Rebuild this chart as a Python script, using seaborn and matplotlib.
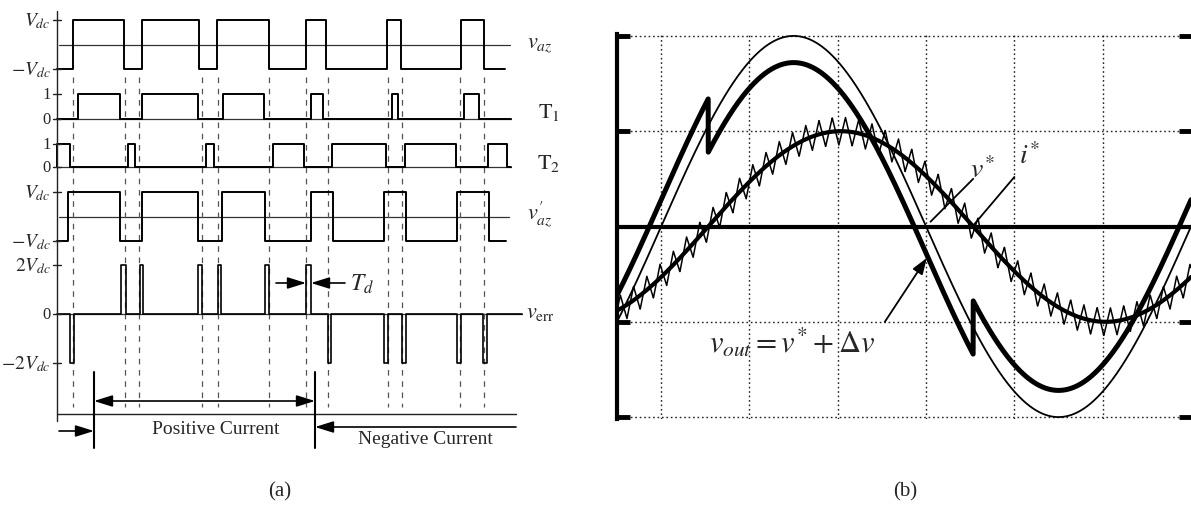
import numpy as np
import matplotlib
matplotlib.use("Agg")
import matplotlib.pyplot as plt
import seaborn as sns

# ---------------- panel (a): switching waveforms (time units along common axis) ----------------
vaz_edges = [16, 67, 85, 142, 160, 212, 249, 269, 330, 344, 404, 427]      # toggles, starts at -Vdc
vaz_end = 448
t1_pulses = [(21, 63), (85, 141), (166, 207), (254, 266), (335, 341), (407, 422)]
t2_pulses = [(0, 13), (71, 78), (149, 157), (216, 247), (275, 329), (348, 399), (431, 450)]
gate_end = 454
vazp_edges = [11, 63, 85, 141, 165, 208, 254, 276, 327, 349, 400, 432]     # toggles, starts at -Vdc
vazp_end = 449
verr_pos = [(64, 69), (83, 86), (141, 145), (161, 164), (208, 212), (249, 254)]
verr_neg = [(13, 17), (271, 274), (327, 331), (345, 349), (400, 404), (426, 430)]
verr_end = 465
dash_times = [16, 68, 82, 145, 161, 212, 249, 271, 331, 345, 403, 427]
current_bounds = [37, 258]          # start / end of positive current
td_pulse = (249, 254)

# ---------------- panel (b): waveforms (degrees, amplitudes in grid divisions) ----------------
v_amp = 2.0          # v* amplitude
v_zero = 30.0        # v* upward zero crossing (deg)
i_amp = 1.0          # i* amplitude
i_lag = 32.0         # current lag behind v* (deg)
dv_amp = 0.28        # dead-time voltage error |Δv|
ripple_amp = 0.145   # current ripple half amplitude
ripple_period = 9.0  # ripple period (deg)
x_max = 390.0
grid_x = [30, 90, 150, 210, 270, 330]
grid_y = [-2, -1, 1, 2]

# ---------------- style ----------------
sns.set_theme(style="white")
plt.rcParams['font.family'] = ['Liberation Serif', 'DejaVu Serif']
plt.rcParams['mathtext.fontset'] = 'stix'

W, H = 1191, 506
fig = plt.figure(figsize=(W / 100, H / 100), dpi=100)

# ================= panel (a) =================
ax = fig.add_axes([0, 0, 590 / W, 1])
ax.set_xlim(-57, 533)
ax.set_ylim(H, 0)
ax.axis('off')

rows = {'vaz': (45.5, 24.5), 't1': (120, 25), 't2': (168, 23),
        'vazp': (217.5, 24.5), 'verr': (315, 24.5)}


def ypix(row, lev):
    y0, s = rows[row]
    return y0 - s * np.asarray(lev, dtype=float)


def toggle_wave(edges, start, end):
    xs, ys, lev = [0], [start], start
    for e in edges:
        xs += [e, e]
        ys += [lev, -lev]
        lev = -lev
    xs.append(end)
    ys.append(lev)
    return np.array(xs, float), np.array(ys, float)


def pulse_wave(pulses, end):
    xs, ys = [0], [0.0]
    for a, b, amp in pulses:
        xs += [a, a, b, b]
        ys += [0, amp, amp, 0]
    xs.append(end)
    ys.append(0)
    return np.array(xs, float), np.array(ys, float)


kw = dict(ax=ax, estimator=None, sort=False, color='black', legend=False)
thin = dict(color='#333333', lw=0.9)

# reference lines
ax.plot([2, vaz_end + 5], [ypix('vaz', 0)] * 2, **thin)
ax.plot([0, gate_end], [ypix('t1', 0)] * 2, **thin)
ax.plot([0, gate_end], [ypix('t2', 0)] * 2, **thin)
ax.plot([2, vazp_end + 3], [ypix('vazp', 0)] * 2, **thin)
ax.plot([0, verr_end], [ypix('verr', 0)] * 2, **thin)

# dashed time marks
for t in dash_times:
    ax.plot([t, t], [78, 408], color='#555555', lw=0.9, ls=(0, (4.5, 4.5)))

# waveforms
x, y = toggle_wave(vaz_edges, -1, vaz_end)
sns.lineplot(x=x, y=ypix('vaz', y), lw=1.4, **kw)
x, y = pulse_wave([(a, b, 1) for a, b in t1_pulses], gate_end)
sns.lineplot(x=x, y=ypix('t1', y), lw=1.4, **kw)
x, y = pulse_wave([(a, b, 1) for a, b in t2_pulses], gate_end)
sns.lineplot(x=x, y=ypix('t2', y), lw=1.4, **kw)
x, y = toggle_wave(vazp_edges, -1, vazp_end)
sns.lineplot(x=x, y=ypix('vazp', y), lw=1.4, **kw)
err = sorted([(a, b, 2) for a, b in verr_pos] + [(a, b, -2) for a, b in verr_neg])
x, y = pulse_wave(err, verr_end)
sns.lineplot(x=x, y=ypix('verr', y), lw=1.2, **kw)

# vertical axis + ticks
ax.plot([0, 0], [12, 422], color='#222222', lw=1.0)
ax.plot([0, 459], [415, 415], color='#222222', lw=1.0)
left_labels = [('vaz', 1, r'$V_{dc}$'), ('vaz', -1, r'$-V_{dc}$'),
               ('t1', 1, '1'), ('t1', 0, '0'), ('t2', 1, '1'), ('t2', 0, '0'),
               ('vazp', 1, r'$V_{dc}$'), ('vazp', -1, r'$-V_{dc}$'),
               ('verr', 2, r'$2V_{dc}$'), ('verr', 0, '0'), ('verr', -2, r'$-2V_{dc}$')]
for row, lev, lab in left_labels:
    yy = ypix(row, lev)
    ax.plot([-4, 4], [yy, yy], color='#222222', lw=1.0)
    fs = 12 if lab in ('0', '1') else 14
    ax.text(-6, yy, lab, ha='right', va='center', fontsize=fs)

right_labels = [('vaz', 0, 470, r'$v_{az}$'), ('t1', 0.3, 481, r'$\mathrm{T}_1$'),
                ('t2', 0.2, 480, r'$\mathrm{T}_2$'), ('vazp', 0.1, 470, r"$v_{az}^{\prime}$"),
                ('verr', 0.05, 469, r'$v_{\mathrm{err}}$')]
for row, lev, xx, lab in right_labels:
    ax.text(xx, ypix(row, lev), lab, ha='left', va='center', fontsize=16)

# dead-time annotation
ahead = dict(arrowstyle='-|>,head_length=0.8,head_width=0.25', color='black', lw=1.2,
             mutation_scale=14, shrinkA=0, shrinkB=0)
yt = 284
ax.annotate('', xy=(td_pulse[0], yt), xytext=(td_pulse[0] - 30, yt), arrowprops=ahead)
ax.annotate('', xy=(td_pulse[1], yt), xytext=(td_pulse[1] + 34, yt), arrowprops=ahead)
ax.text(td_pulse[1] + 39, yt, r'$T_d$', ha='left', va='center', fontsize=17)

# current polarity annotation
for t in current_bounds:
    ax.plot([t, t], [373, 449], color='black', lw=1.5)
dbl = dict(ahead)
dbl['arrowstyle'] = '<|-|>,head_length=0.8,head_width=0.25'
ax.annotate('', xy=(current_bounds[1], 402), xytext=(current_bounds[0], 402), arrowprops=dbl)
ax.annotate('', xy=(current_bounds[0], 432), xytext=(2, 432), arrowprops=ahead)
ax.annotate('', xy=(current_bounds[1], 428), xytext=(459, 428), arrowprops=ahead)
ax.text(159, 430, 'Positive Current', ha='center', va='center', fontsize=14)
ax.text(368, 440, 'Negative Current', ha='center', va='center', fontsize=14)
ax.text(223, 492, '(a)', ha='center', va='center', fontsize=15)

# ================= panel (b) =================
bx = fig.add_axes([617 / W, (H - 420) / H, (W - 617) / W, 385 / H])
theta = np.linspace(0, x_max, 6000)
rad = np.deg2rad
v_star = v_amp * np.sin(rad(theta - v_zero))
i_star = i_amp * np.sin(rad(theta - v_zero - i_lag))
v_out = v_star - dv_amp * np.sign(i_star)
tri = (2 / np.pi) * np.arcsin(np.sin(2 * np.pi * theta / ripple_period))
i_out = i_star + ripple_amp * tri

bkw = dict(ax=bx, estimator=None, sort=False, color='black', legend=False)
sns.lineplot(x=theta, y=i_out, lw=1.1, **bkw)
sns.lineplot(x=theta, y=v_star, lw=1.3, **bkw)
sns.lineplot(x=theta, y=v_out, lw=3.6, **bkw)
sns.lineplot(x=theta, y=i_star, lw=3.0, **bkw)
bx.axhline(0, color='black', lw=3.0)

bx.set_xlim(0, x_max)
bx.set_ylim(-2.02, 2.02)
bx.set_xticks(grid_x)
bx.set_yticks(grid_y)
bx.set_xticklabels([])
bx.set_yticklabels([])
bx.grid(True, color='#222222', lw=1.0, ls=(0, (1.2, 2.0)))
bx.tick_params(axis='y', which='both', left=True, right=True, direction='in',
               length=9, width=3.5, color='black')
bx.tick_params(axis='x', length=0)
for s in ('top', 'bottom', 'right'):
    bx.spines[s].set_visible(False)
bx.spines['left'].set_color('black')
bx.spines['left'].set_linewidth(3.0)
bx.set_facecolor('white')

bx.text(248, 0.60, r'$v^{*}$', ha='center', va='center', fontsize=20)
bx.text(280, 0.74, r'$i^{*}$', ha='center', va='center', fontsize=20)
bx.plot([242, 213], [0.50, 0.05], color='black', lw=1.3)
bx.plot([270, 242], [0.52, 0.01], color='black', lw=1.3)
bx.text(119, -1.21, r'$v_{out} = v^{*} + \Delta v$', ha='center', va='center', fontsize=22)
bx.annotate('', xy=(210.5, -0.33), xytext=(182, -1.0),
            arrowprops=dict(arrowstyle='-|>,head_length=0.7,head_width=0.25', color='black',
                            lw=1.3, mutation_scale=14, shrinkA=0, shrinkB=0))

fig.text(905 / W, 1 - 492 / H, '(b)', ha='center', va='center', fontsize=15)

fig.savefig('out.png', dpi=100, facecolor='white')
